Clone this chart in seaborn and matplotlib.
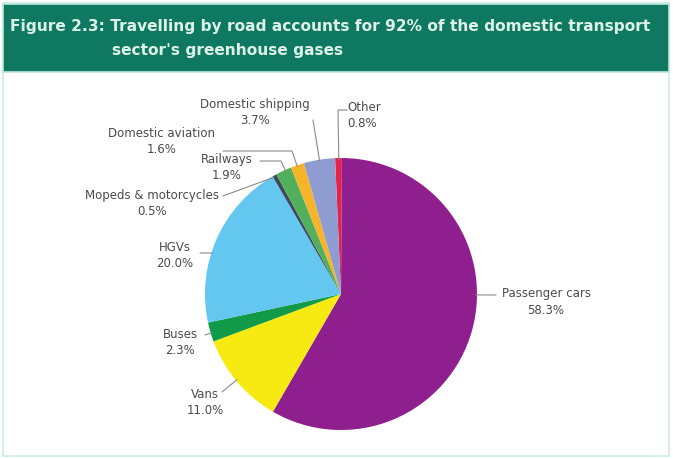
import numpy as np
import matplotlib
matplotlib.use("Agg")
import matplotlib.pyplot as plt
from matplotlib.patches import Rectangle
import seaborn as sns

# Share of domestic transport greenhouse gas emissions (%), clockwise from the top
categories = ["Other", "Passenger cars", "Vans", "Buses", "HGVs",
              "Mopeds & motorcycles", "Railways", "Domestic aviation",
              "Domestic shipping"]
shares = [0.8, 58.3, 11.0, 2.3, 20.0, 0.5, 1.9, 1.6, 3.7]
colors = ["#E2234A", "#8F1F8E", "#F6EA12", "#119B49", "#63C7EF",
          "#3D4A5E", "#52B05C", "#F6B42A", "#8E9CD2"]

title_lines = ["Figure 2.3: Travelling by road accounts for 92% of the domestic transport",
               "sector's greenhouse gases"]

sns.set_theme(style="white")
plt.rcParams["font.family"] = ["DejaVu Sans"]

W, H = 673, 459
fig = plt.figure(figsize=(W / 100, H / 100), dpi=100)
fig.patch.set_facecolor("white")

# outer frame and header band
fig.add_artist(Rectangle((3 / W, 3 / H), 666 / W, 453 / H, transform=fig.transFigure,
                         facecolor="none", edgecolor="#D5EEEA", linewidth=1.5))
fig.add_artist(Rectangle((3 / W, 1 - 72 / H), 666 / W, 68 / H, transform=fig.transFigure,
                         facecolor="#0E7861", edgecolor="#BFE6DC", linewidth=1.2))
fig.text(10 / W, 1 - 27 / H, title_lines[0], color="#DDF2E6", fontsize=11.1,
         fontweight="bold", va="center", ha="left")
fig.text(112 / W, 1 - 51 / H, title_lines[1], color="#DDF2E6", fontsize=11.1,
         fontweight="bold", va="center", ha="left")

# pie axes: centre (341, 294) px, radius 136 px
cx, cy, r = 341, 294, 136
ax = fig.add_axes([(cx - r) / W, (H - cy - r) / H, 2 * r / W, 2 * r / H])
wedges, _ = ax.pie(shares, colors=colors, startangle=92.5, counterclock=False,
                   radius=1.0, wedgeprops=dict(linewidth=0))
ax.set_xlim(-1, 1)
ax.set_ylim(-1, 1)
ax.set_aspect("equal")
ax.axis("off")


def px(x, y):
    """pixel position -> pie data coordinates"""
    return ((x - cx) / r, (cy - y) / r)


# label text centre and leader-line path (pixels); the line ends on the wedge rim
layout = {
    "Other": ((347, 115), [(347, 110), (338, 110)], "left"),
    "Passenger cars": ((546, 302), [(496, 295)], "center"),
    "Vans": ((205, 403), [(222, 392)], "center"),
    "Buses": ((180, 342), [(205, 335)], "center"),
    "HGVs": ((175, 255), [(200, 253), (211, 253)], "center"),
    "Mopeds & motorcycles": ((152, 203), [(223, 196)], "center"),
    "Railways": ((227, 167), [(260, 161), (281, 161)], "center"),
    "Domestic aviation": ((162, 141), [(223, 151), (292, 151)], "center"),
    "Domestic shipping": ((255, 112), [(313, 120)], "center"),
}

for w, name, val in zip(wedges, categories, shares):
    (tx, ty), path, ha = layout[name]
    # rim point inside the wedge nearest the end of the leader path
    ex, ey = px(*path[-1])
    a = np.degrees(np.arctan2(ey, ex))
    lo, hi = sorted((w.theta1, w.theta2))
    a = (a - lo) % 360 + lo
    a = min(max(a, lo + 0.3), hi - 0.3)
    ang = np.deg2rad(a)
    end = (0.99 * np.cos(ang), 0.99 * np.sin(ang))
    pts = [px(*p) for p in path] + [end]
    xs, ys = zip(*pts)
    ax.plot(xs, ys, color="#8A8A8A", linewidth=0.8, clip_on=False)
    lx, ly = px(tx, ty)
    ax.text(lx, ly, f"{name}\n{val:.1f}%", ha=ha, va="center", fontsize=8.5,
            color="#4A4A4A", linespacing=1.3, clip_on=False)

fig.savefig("out.png", dpi=100, facecolor="white")
